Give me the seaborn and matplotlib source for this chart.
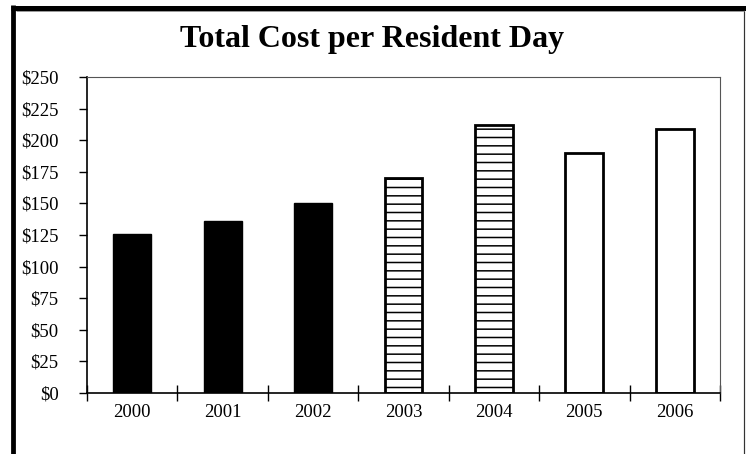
import matplotlib
matplotlib.use("Agg")
import matplotlib.pyplot as plt
import seaborn as sns
import pandas as pd
from matplotlib.lines import Line2D

years = ["2000", "2001", "2002", "2003", "2004", "2005", "2006"]
cost = [126, 136, 150, 170, 212, 190, 209]
styles = ["solid", "solid", "solid", "hatch", "hatch", "open", "open"]
yticks = [0, 25, 50, 75, 100, 125, 150, 175, 200, 225, 250]
title = "Total Cost per Resident Day"

sns.set_theme(style="white")
plt.rcParams["font.family"] = ["Liberation Serif", "DejaVu Serif"]
plt.rcParams["hatch.color"] = "#6a6a6a"
plt.rcParams["hatch.linewidth"] = 1.1
plt.rcParams["text.color"] = "black"
plt.rcParams["xtick.color"] = "black"
plt.rcParams["ytick.color"] = "black"
plt.rcParams["xtick.labelcolor"] = "black"
plt.rcParams["ytick.labelcolor"] = "black"
plt.rcParams["xtick.bottom"] = True
plt.rcParams["ytick.left"] = True

df = pd.DataFrame({"year": years, "cost": cost})

fig = plt.figure(figsize=(7.46, 4.54), dpi=100)
W, H = 746, 454
ax = fig.add_axes([87 / W, 1 - 393 / H, (720 - 87) / W, (393 - 77) / H])

sns.barplot(data=df, x="year", y="cost", ax=ax, color="black", width=0.42,
            saturation=1)

for patch, st in zip(ax.patches, styles):
    if st == "solid":
        patch.set_facecolor("black")
        patch.set_edgecolor("black")
        patch.set_linewidth(1)
    elif st == "hatch":
        patch.set_facecolor("white")
        patch.set_edgecolor("black")
        patch.set_hatch("--")
        patch.set_linewidth(2)
    else:
        patch.set_facecolor("white")
        patch.set_edgecolor("black")
        patch.set_linewidth(2)

ax.set_ylim(0, 250)
ax.set_xlim(-0.5, len(years) - 0.5)
ax.set_yticks(yticks)
ax.set_yticklabels([f"${v}" for v in yticks], fontsize=13.5, color="black")
ax.set_xticks(range(len(years)))
ax.set_xticklabels(years, fontsize=13.5, color="black")
ax.set_xlabel("")
ax.set_ylabel("")

# x ticks between categories
ax.set_xticks([i - 0.5 for i in range(len(years) + 1)], minor=True)
ax.tick_params(axis="x", which="major", bottom=True, length=0, pad=8)
ax.tick_params(axis="x", which="minor", bottom=True, length=12, width=1,
               color="black", direction="inout")
ax.tick_params(axis="y", which="major", left=True, length=5.5, width=1,
               color="black", direction="out", pad=15)
for side in ["left", "bottom"]:
    ax.spines[side].set_color("black")
    ax.spines[side].set_linewidth(1.2)
for side in ["top", "right"]:
    ax.spines[side].set_color("#555555")
    ax.spines[side].set_linewidth(0.8)

fig.text(372 / W, 1 - 39 / H, title, ha="center", va="center",
         fontsize=23, fontweight="bold", color="black")

# frame
def px_line(x0, y0, x1, y1, lw, color):
    fig.add_artist(Line2D([x0 / W, x1 / W], [1 - y0 / H, 1 - y1 / H],
                          transform=fig.transFigure, lw=lw, color=color,
                          solid_capstyle="butt"))

px_line(13.3, 5, 13.3, 454, 4.8 * 72 / 100, "black")
px_line(11, 7.5, 746, 7.5, 5 * 72 / 100, "black")
px_line(743.5, 10, 743.5, 454, 1.2 * 72 / 100, "#333333")
px_line(15.5, 10.5, 743.5, 10.5, 1.0 * 72 / 100, "#999999")

fig.savefig("out.png", dpi=100)
